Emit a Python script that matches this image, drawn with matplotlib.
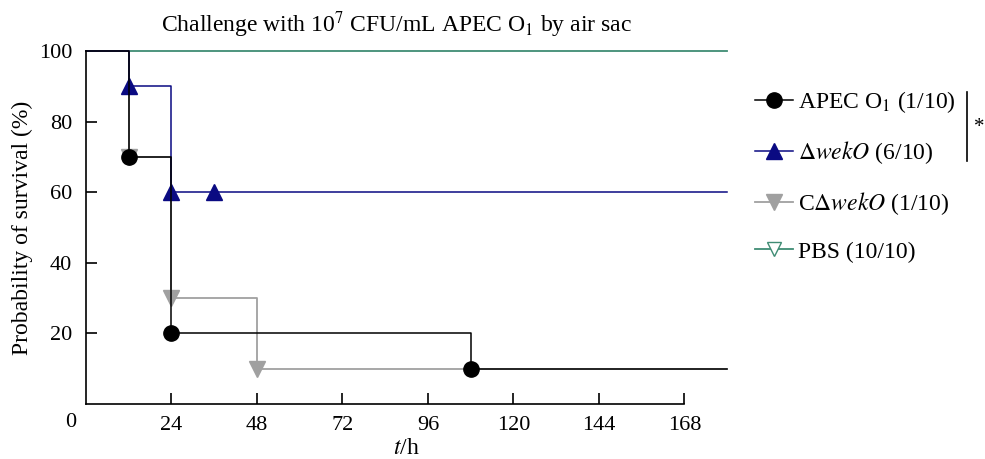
import matplotlib.pyplot as plt
from matplotlib.lines import Line2D

plt.rcParams['font.family'] = ['Liberation Serif', 'DejaVu Serif']
plt.rcParams['mathtext.fontset'] = 'stix'

# survival curves (time in h, survival in %)
apec_t = [0, 12, 24, 108, 180]
apec_s = [100, 70, 20, 10, 10]
apec_mt = [12, 24, 108]
apec_ms = [70, 20, 10]

wek_t = [0, 12, 24, 180]
wek_s = [100, 90, 60, 60]
wek_mt = [12, 24, 36]
wek_ms = [90, 60, 60]

cwek_t = [0, 12, 24, 48, 180]
cwek_s = [100, 70, 30, 10, 10]
cwek_mt = [12, 24, 48]
cwek_ms = [70, 30, 10]

pbs_t = [0, 180]
pbs_s = [100, 100]

labels = ['APEC O$_1$ (1/10)', r'$\Delta\mathit{wekO}$ (6/10)',
          r'C$\Delta\mathit{wekO}$ (1/10)', 'PBS (10/10)']
colors = ['black', '#0a0a82', '#a0a0a0', '#3f8c74']

fig = plt.figure(figsize=(9.85, 4.59), dpi=100)
ax = fig.add_axes([0.0873, 0.120, 0.651, 0.769])

ax.step(pbs_t, pbs_s, where='post', color=colors[3], lw=1.3, clip_on=False)
ax.step(cwek_t, cwek_s, where='post', color=colors[2], lw=1.3, clip_on=False)
ax.plot(cwek_mt, cwek_ms, 'v', color=colors[2], ms=11, clip_on=False)
ax.step(wek_t, wek_s, where='post', color=colors[1], lw=1.1, clip_on=False)
ax.plot(wek_mt, wek_ms, '^', color=colors[1], ms=11, clip_on=False)
ax.step(apec_t, apec_s, where='post', color=colors[0], lw=1.1, clip_on=False)
ax.plot(apec_mt, apec_ms, 'o', color=colors[0], ms=11, clip_on=False)

ax.set_xlim(0, 180)
ax.set_ylim(0, 100)
ax.spines['top'].set_visible(False)
ax.spines['right'].set_visible(False)
ax.spines['bottom'].set_bounds(0, 168)
for s in ['left', 'bottom']:
    ax.spines[s].set_linewidth(1.2)

ax.set_xticks([24, 48, 72, 96, 120, 144, 168])
ax.set_yticks([20, 40, 60, 80, 100])
ax.tick_params(direction='in', length=8, width=1.2, labelsize=16)
ax.tick_params(axis='y', pad=10)
ax.tick_params(axis='x', pad=9)
ax.text(-4.2, -2.6, '0', fontsize=16, ha='center', va='top')

ax.set_xlabel('$t$/h', fontsize=17, labelpad=2)
ax.set_ylabel('Probability of survival (%)', fontsize=17, labelpad=4)
fig.text(0.402, 0.930, 'Challenge with 10$^7$ CFU/mL APEC O$_1$ by air sac',
         fontsize=17, ha='center', va='baseline')

handles = [
    Line2D([], [], color=colors[0], marker='o', ms=11, lw=1.1),
    Line2D([], [], color=colors[1], marker='^', ms=11, lw=1.1),
    Line2D([], [], color=colors[2], marker='v', ms=11, lw=1.3),
    Line2D([], [], color=colors[3], marker='v', ms=10, mfc='white', lw=1.3),
]
fig.legend(handles, labels, loc='upper left', bbox_to_anchor=(0.7665, 0.806),
           frameon=False, fontsize=17, handlelength=1.6, handletextpad=0.2,
           labelspacing=1.02, borderpad=0, borderaxespad=0)

fig.add_artist(Line2D([0.982, 0.982], [0.80, 0.65], color='black', lw=1.2))
fig.text(0.9945, 0.722, '*', fontsize=15, ha='center', va='center')

fig.savefig('out.png', dpi=100)
